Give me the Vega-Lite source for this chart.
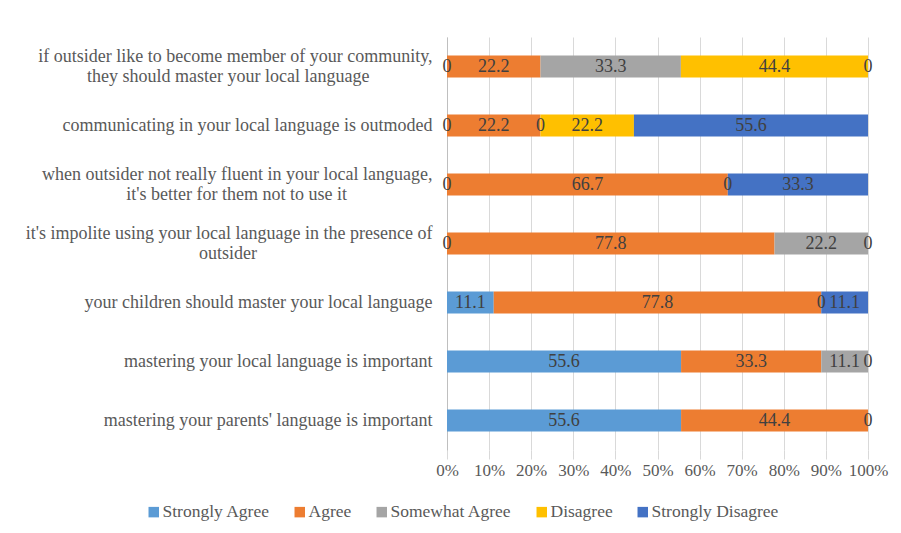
{
  "$schema": "https://vega.github.io/schema/vega-lite/v6.json",
  "width": 421,
  "height": 413,
  "autosize": {"type": "none"},
  "padding": {"left": 447, "top": 37, "right": 33, "bottom": 83},
  "background": "white",
  "config": {"view": {"stroke": null}, "font": "Liberation Serif", "text": {"font": "Liberation Serif"}, "axis": {"labelFont": "Liberation Serif"}, "legend": {"labelFont": "Liberation Serif"}},
  "data": {
    "values": [
      {"q": "if outsider like to become member of your community,|they should master your local language", "cat": "Strongly Agree", "o": 0, "v": 0},
      {"q": "if outsider like to become member of your community,|they should master your local language", "cat": "Agree", "o": 1, "v": 22.2},
      {"q": "if outsider like to become member of your community,|they should master your local language", "cat": "Somewhat Agree", "o": 2, "v": 33.3},
      {"q": "if outsider like to become member of your community,|they should master your local language", "cat": "Disagree", "o": 3, "v": 44.4},
      {"q": "if outsider like to become member of your community,|they should master your local language", "cat": "Strongly Disagree", "o": 4, "v": 0},
      {"q": "communicating in your local language is outmoded", "cat": "Strongly Agree", "o": 0, "v": 0},
      {"q": "communicating in your local language is outmoded", "cat": "Agree", "o": 1, "v": 22.2},
      {"q": "communicating in your local language is outmoded", "cat": "Somewhat Agree", "o": 2, "v": 0},
      {"q": "communicating in your local language is outmoded", "cat": "Disagree", "o": 3, "v": 22.2},
      {"q": "communicating in your local language is outmoded", "cat": "Strongly Disagree", "o": 4, "v": 55.6},
      {"q": "when outsider not really fluent in your local language,|it's better for them not to use it", "cat": "Strongly Agree", "o": 0, "v": 0},
      {"q": "when outsider not really fluent in your local language,|it's better for them not to use it", "cat": "Agree", "o": 1, "v": 66.7},
      {"q": "when outsider not really fluent in your local language,|it's better for them not to use it", "cat": "Somewhat Agree", "o": 2, "v": 0},
      {"q": "when outsider not really fluent in your local language,|it's better for them not to use it", "cat": "Strongly Disagree", "o": 4, "v": 33.3},
      {"q": "it's impolite using your local language in the presence of|outsider", "cat": "Strongly Agree", "o": 0, "v": 0},
      {"q": "it's impolite using your local language in the presence of|outsider", "cat": "Agree", "o": 1, "v": 77.8},
      {"q": "it's impolite using your local language in the presence of|outsider", "cat": "Somewhat Agree", "o": 2, "v": 22.2},
      {"q": "it's impolite using your local language in the presence of|outsider", "cat": "Strongly Disagree", "o": 4, "v": 0},
      {"q": "your children should master your local language", "cat": "Strongly Agree", "o": 0, "v": 11.1},
      {"q": "your children should master your local language", "cat": "Agree", "o": 1, "v": 77.8},
      {"q": "your children should master your local language", "cat": "Somewhat Agree", "o": 2, "v": 0},
      {"q": "your children should master your local language", "cat": "Strongly Disagree", "o": 4, "v": 11.1},
      {"q": "mastering your local language is important", "cat": "Strongly Agree", "o": 0, "v": 55.6},
      {"q": "mastering your local language is important", "cat": "Agree", "o": 1, "v": 33.3},
      {"q": "mastering your local language is important", "cat": "Somewhat Agree", "o": 2, "v": 11.1},
      {"q": "mastering your local language is important", "cat": "Strongly Disagree", "o": 4, "v": 0},
      {"q": "mastering your parents' language is important", "cat": "Strongly Agree", "o": 0, "v": 55.6},
      {"q": "mastering your parents' language is important", "cat": "Agree", "o": 1, "v": 44.4},
      {"q": "mastering your parents' language is important", "cat": "Strongly Disagree", "o": 4, "v": 0}
    ]
  },
  "encoding": {
    "y": {
      "field": "q",
      "type": "nominal",
      "sort": null,
      "scale": {"paddingInner": 0.63, "paddingOuter": 0.315},
      "axis": {
        "title": null,
        "ticks": false,
        "domainColor": "#BFBFBF",
        "labelFont": "Liberation Serif",
        "labelFontSize": 18,
        "labelColor": "#595959",
        "labelPadding": 15,
        "labelLimit": 0,
        "labelLineHeight": 20,
        "labelOffset": {"condition": {"test": "indexof(datum.value, '|') >= 0", "value": -10}, "value": 0},
        "labelExpr": "length(split(datum.label,'|')) > 1 ? [split(datum.label,'|')[0], pad(split(datum.label,'|')[1], length(split(datum.label,'|')[1]) + round(0.7 * (length(split(datum.label,'|')[0]) - length(split(datum.label,'|')[1])) + 4), '\u00a0') + '\u200b'] : datum.label"
      }
    }
  },
  "layer": [
    {
      "mark": {"type": "bar"},
      "encoding": {
        "x": {
          "field": "v",
          "type": "quantitative",
          "stack": "normalize",
          "axis": {
            "title": null,
            "format": "%",
            "values": [0, 0.1, 0.2, 0.3, 0.4, 0.5, 0.6, 0.7, 0.8, 0.9, 1],
            "grid": true,
            "gridColor": "#D9D9D9",
            "domain": false,
            "tickColor": "#D9D9D9",
            "tickSize": 9,
            "labelFont": "Liberation Serif",
            "labelFontSize": 17,
            "labelColor": "#595959",
            "labelPadding": 3,
            "labelFlush": false,
            "labelOverlap": false
          }
        },
        "color": {
          "field": "cat",
          "type": "nominal",
          "scale": {
            "domain": ["Strongly Agree", "Agree", "Somewhat Agree", "Disagree", "Strongly Disagree"],
            "range": ["#5B9BD5", "#ED7D31", "#A5A5A5", "#FFC000", "#4472C4"]
          },
          "legend": {
            "title": null,
            "orient": "none",
            "legendX": -302,
            "legendY": 466,
            "direction": "horizontal",
            "columns": 5,
            "columnPadding": 21,
            "symbolType": "square",
            "symbolSize": 110,
            "symbolStrokeWidth": 0,
            "labelFont": "Liberation Serif",
            "labelFontSize": 17.5,
            "labelColor": "#595959",
            "labelOffset": 0
          }
        },
        "order": {"field": "o", "type": "quantitative"}
      }
    },
    {
      "mark": {"type": "text", "font": "Liberation Serif", "fontSize": 18, "color": "#404040"},
      "encoding": {
        "x": {"field": "v", "type": "quantitative", "stack": "normalize", "bandPosition": 0.5},
        "detail": {"field": "cat", "type": "nominal"},
        "text": {"field": "v", "type": "quantitative"},
        "order": {"field": "o", "type": "quantitative"}
      }
    }
  ]
}
